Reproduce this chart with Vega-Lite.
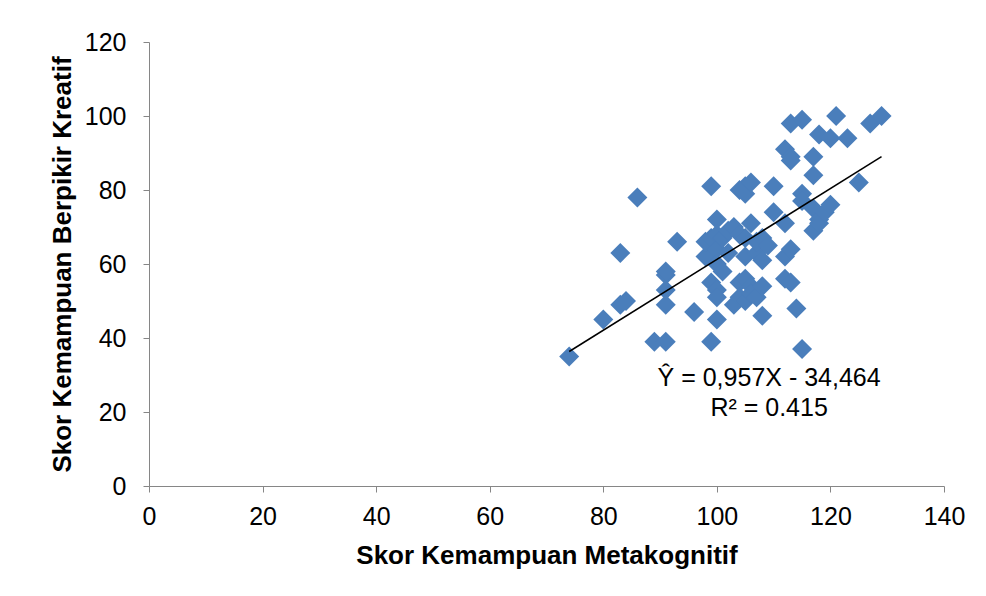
{
  "$schema": "https://vega.github.io/schema/vega-lite/v6.json",
  "autosize": "none",
  "width": 795,
  "height": 444,
  "padding": {"left": 149, "top": 42, "right": 42, "bottom": 110},
  "background": "white",
  "config": {
    "view": {"stroke": null},
    "font": "Liberation Sans",
    "axis": {
      "grid": false,
      "labelFlush": false,
      "domainColor": "#868686",
      "tickColor": "#868686",
      "tickSize": 6,
      "labelFont": "Liberation Sans",
      "labelFontSize": 25,
      "labelColor": "#000000",
      "titleFont": "Liberation Sans",
      "titleFontSize": 26,
      "titleFontWeight": "bold",
      "titleColor": "#000000"
    }
  },
  "datasets": {
    "points": [
      {"x": 74, "y": 35}, {"x": 80, "y": 45}, {"x": 83, "y": 49}, {"x": 84, "y": 50}, {"x": 83, "y": 63},
      {"x": 86, "y": 78}, {"x": 89, "y": 39}, {"x": 91, "y": 39}, {"x": 91, "y": 57}, {"x": 91, "y": 58},
      {"x": 91, "y": 53}, {"x": 91, "y": 49}, {"x": 93, "y": 66}, {"x": 96, "y": 47}, {"x": 98, "y": 62},
      {"x": 98, "y": 66}, {"x": 99, "y": 81}, {"x": 99, "y": 67}, {"x": 99, "y": 55}, {"x": 99, "y": 39},
      {"x": 100, "y": 72}, {"x": 100, "y": 68}, {"x": 100, "y": 64}, {"x": 100, "y": 60}, {"x": 100, "y": 53},
      {"x": 100, "y": 51}, {"x": 100, "y": 45}, {"x": 101, "y": 67}, {"x": 101, "y": 58}, {"x": 102, "y": 63},
      {"x": 102, "y": 69}, {"x": 103, "y": 70}, {"x": 103, "y": 49}, {"x": 104, "y": 80}, {"x": 104, "y": 68},
      {"x": 104, "y": 55}, {"x": 104, "y": 51}, {"x": 105, "y": 81}, {"x": 105, "y": 79}, {"x": 105, "y": 67},
      {"x": 105, "y": 62}, {"x": 105, "y": 56}, {"x": 105, "y": 50}, {"x": 106, "y": 82}, {"x": 106, "y": 71},
      {"x": 106, "y": 54}, {"x": 106, "y": 52}, {"x": 107, "y": 63}, {"x": 107, "y": 51}, {"x": 107, "y": 66},
      {"x": 108, "y": 67}, {"x": 108, "y": 61}, {"x": 108, "y": 54}, {"x": 108, "y": 46}, {"x": 109, "y": 65},
      {"x": 110, "y": 81}, {"x": 110, "y": 74}, {"x": 112, "y": 91}, {"x": 112, "y": 71}, {"x": 112, "y": 62},
      {"x": 112, "y": 56}, {"x": 113, "y": 98}, {"x": 113, "y": 89}, {"x": 113, "y": 88}, {"x": 113, "y": 64},
      {"x": 113, "y": 55}, {"x": 114, "y": 48}, {"x": 115, "y": 99}, {"x": 115, "y": 79}, {"x": 115, "y": 77},
      {"x": 115, "y": 37}, {"x": 117, "y": 89}, {"x": 117, "y": 84}, {"x": 117, "y": 75}, {"x": 117, "y": 69},
      {"x": 118, "y": 95}, {"x": 118, "y": 72}, {"x": 118, "y": 71}, {"x": 119, "y": 74}, {"x": 120, "y": 94},
      {"x": 120, "y": 76}, {"x": 121, "y": 100}, {"x": 123, "y": 94}, {"x": 125, "y": 82}, {"x": 127, "y": 98},
      {"x": 129, "y": 100}
    ],
    "trend": [
      {"x": 74, "y": 36.35},
      {"x": 129, "y": 89.0}
    ],
    "labels": [
      {"x": 109.2, "y": 29.2, "text": "Ŷ = 0,957X - 34,464"},
      {"x": 109.2, "y": 21.1, "text": "R² = 0.415"}
    ]
  },
  "layer": [
    {
      "data": {"name": "points"},
      "mark": {"type": "point", "shape": "diamond", "filled": true, "size": 400, "color": "#4A7EBB", "opacity": 1},
      "encoding": {
        "x": {"field": "x", "type": "quantitative", "scale": {"domain": [0, 140], "nice": false},
              "axis": {"values": [0, 20, 40, 60, 80, 100, 120, 140], "labelPadding": 12, "title": "Skor Kemampuan Metakognitif", "titlePadding": 13}},
        "y": {"field": "y", "type": "quantitative", "scale": {"domain": [0, 120], "nice": false},
              "axis": {"values": [0, 20, 40, 60, 80, 100, 120], "labelPadding": 17, "title": "Skor Kemampuan Berpikir Kreatif", "titlePadding": 9}}
      }
    },
    {
      "data": {"name": "trend"},
      "mark": {"type": "line", "color": "#000000", "strokeWidth": 1.5},
      "encoding": {
        "x": {"field": "x", "type": "quantitative"},
        "y": {"field": "y", "type": "quantitative"}
      }
    },
    {
      "data": {"name": "labels"},
      "mark": {"type": "text", "fontSize": 25, "font": "Liberation Sans", "color": "#000000", "align": "center", "baseline": "middle"},
      "encoding": {
        "x": {"field": "x", "type": "quantitative"},
        "y": {"field": "y", "type": "quantitative"},
        "text": {"field": "text"}
      }
    }
  ]
}
